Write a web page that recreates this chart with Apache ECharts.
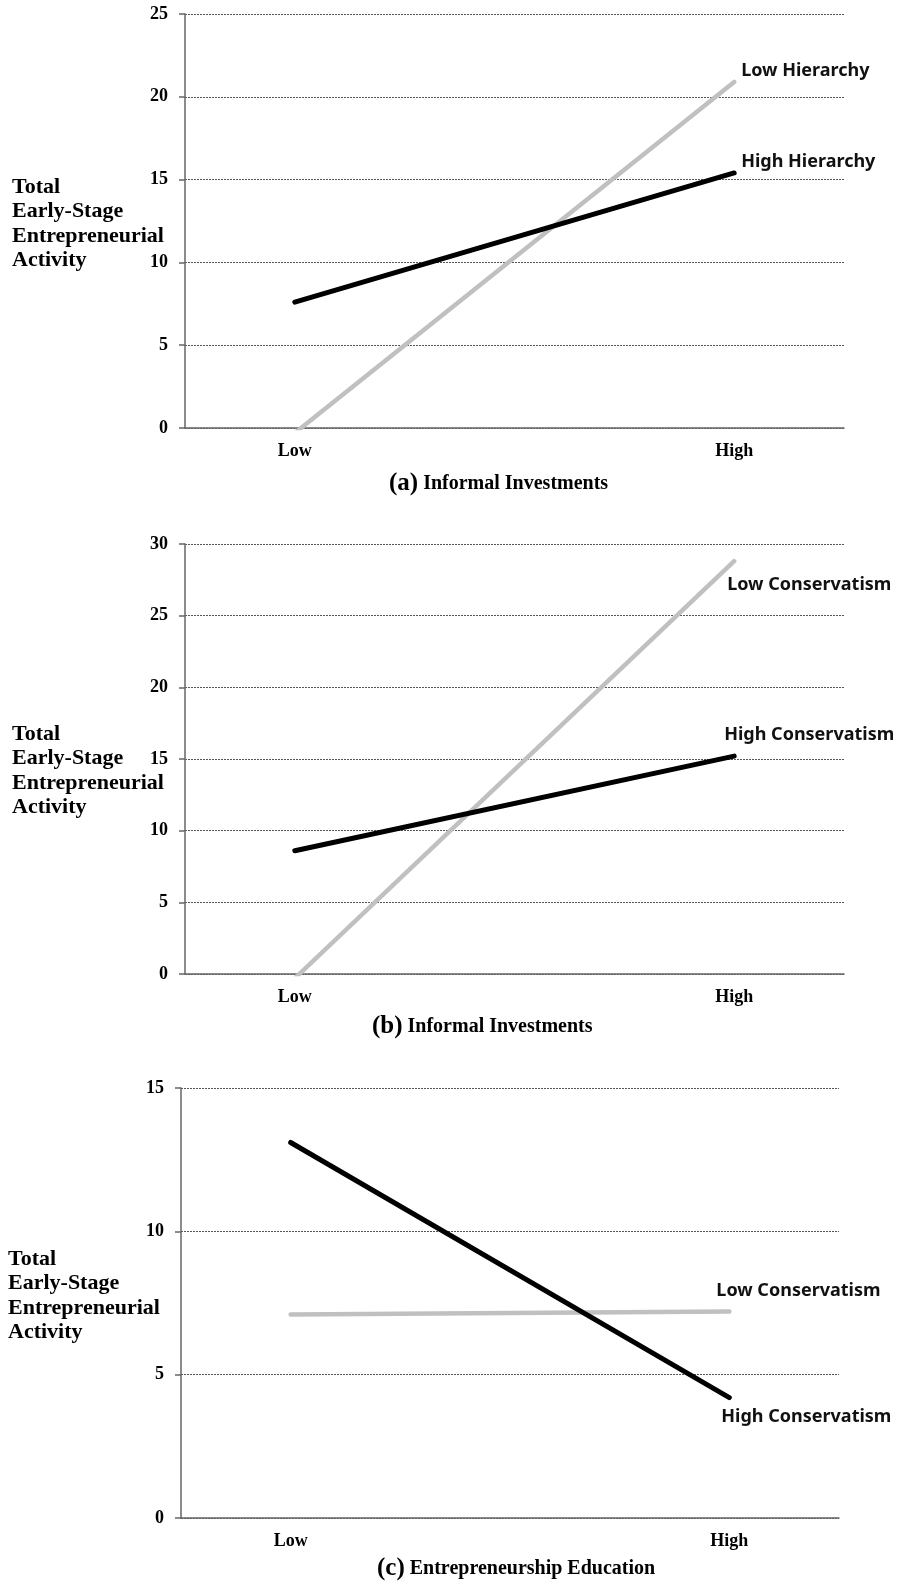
<!DOCTYPE html>
<html>
<head>
<meta charset="utf-8">
<script src="https://cdn.jsdelivr.net/npm/echarts@6/dist/echarts.min.js"></script>
<style>
  html, body { margin: 0; padding: 0; background: #fff; }
  #main { width: 898px; height: 1584px; }
</style>
</head>
<body>
<div id="main"></div>
<script>
// x levels (index on the x axis)
const levels = ['Low', 'High']

// (a) informal investments x hierarchy
const lowHierarchy = [-0.3, 20.9]
const highHierarchy = [7.6, 15.4]
// (b) informal investments x conservatism
const lowConservB = [-0.3, 28.8]
const highConservB = [8.6, 15.2]
// (c) entrepreneurship education x conservatism
const lowConservC = [7.1, 7.2]
const highConservC = [13.1, 4.2]

const yMax = [25, 30, 15]
const yStep = 5
const yName = 'Total\nEarly-Stage\nEntrepreneurial\nActivity'
const captions = [
  ['(a)', 'Informal Investments'],
  ['(b)', 'Informal Investments'],
  ['(c)', 'Entrepreneurship Education'],
]

const serif = '"Liberation Serif", "Times New Roman", serif'
const sans = '"Noto Sans", "DejaVu Sans", sans-serif'

const grids = [
  { left: 185, right: 54, top: 14, height: 414 },
  { left: 185, right: 54, top: 544, height: 430 },
  { left: 181, right: 59, top: 1088, height: 430 },
]

const toPoints = (vals) => vals.map((v, i) => [i, v])

const xAxes = grids.map((g, i) => ({
  type: 'value',
  gridIndex: i,
  min: -0.25,
  max: 1.25,
  interval: 0.25,
  axisLine: { show: true, onZero: false, lineStyle: { color: '#666', width: 1.5 } },
  axisTick: { show: false },
  splitLine: { show: false },
  axisLabel: {
    margin: 14,
    fontFamily: serif,
    fontWeight: 'bold',
    fontSize: 18,
    color: '#000',
    showMinLabel: true,
    showMaxLabel: true,
    formatter: function (v) {
      return Number.isInteger(v) && levels[v] ? levels[v] : ''
    },
  },
}))

const yAxes = grids.map((g, i) => ({
  type: 'value',
  gridIndex: i,
  min: 0,
  max: yMax[i],
  interval: yStep,
  axisLine: { show: true, onZero: false, lineStyle: { color: '#666', width: 1.5 } },
  axisTick: { show: true, length: 6, lineStyle: { color: '#666', width: 1.5 } },
  splitLine: { show: true, lineStyle: { color: '#555', width: 1, type: [2, 1] } },
  axisLabel: {
    margin: 17,
    fontFamily: serif,
    fontWeight: 'bold',
    fontSize: 18,
    color: '#000',
  },
}))

const labelStyle = {
  show: true,
  fontFamily: sans,
  fontWeight: 'bold',
  fontSize: 18,
  color: '#111',
  distance: 0,
}

function line(name, vals, idx, color, width, offset) {
  return {
    type: 'line',
    name: name,
    xAxisIndex: idx,
    yAxisIndex: idx,
    data: toPoints(vals),
    showSymbol: false,
    symbol: 'none',
    clip: true,
    lineStyle: { color: color, width: width, cap: 'round' },
    endLabel: Object.assign({}, labelStyle, {
      formatter: name,
      offset: offset,
    }),
    z: color === '#000' ? 3 : 2,
  }
}

const series = [
  line('Low Hierarchy', lowHierarchy, 0, '#c0c0c0', 4.5, [7, -11]),
  line('High Hierarchy', highHierarchy, 0, '#000', 5, [7, -11]),
  line('Low Conservatism', lowConservB, 1, '#c0c0c0', 4.5, [-7, 24]),
  line('High Conservatism', highConservB, 1, '#000', 5, [-10, -21]),
  line('Low Conservatism', lowConservC, 2, '#c0c0c0', 4.5, [-13, -21]),
  line('High Conservatism', highConservC, 2, '#000', 5, [-8, 19]),
]

const nameTops = [175, 722, 1247]
const nameLefts = [12, 12, 8]
const capLefts = [389, 372, 377]
const capTops = [471, 1014, 1556]

const titles = []
grids.forEach((g, i) => {
  titles.push({
    text: yName,
    left: nameLefts[i],
    top: nameTops[i],
    padding: 0,
    textStyle: {
      fontFamily: serif,
      fontWeight: 'bold',
      fontSize: 22,
      lineHeight: 24.5,
      color: '#000',
    },
  })
  titles.push({
    text: '{p|' + captions[i][0] + '} {t|' + captions[i][1] + '}',
    left: capLefts[i],
    top: capTops[i],
    padding: 0,
    textStyle: {
      rich: {
        p: { fontFamily: serif, fontWeight: 'bold', fontSize: 25, color: '#000' },
        t: { fontFamily: serif, fontWeight: 'bold', fontSize: 20, color: '#000' },
      },
    },
  })
})

const myChart = echarts.init(document.getElementById('main'), null, { renderer: 'canvas' })
myChart.setOption({
  animation: false,
  backgroundColor: '#fff',
  title: titles,
  grid: grids,
  xAxis: xAxes,
  yAxis: yAxes,
  series: series,
})
</script>
</body>
</html>
